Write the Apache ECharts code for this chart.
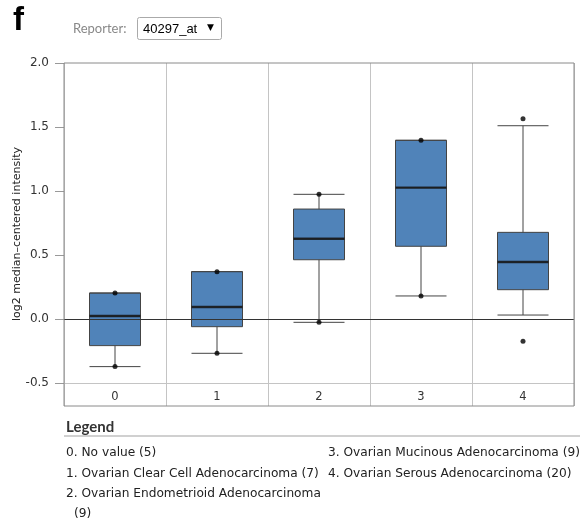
<!DOCTYPE html>
<html><head><meta charset="utf-8">
<script src="https://cdn.jsdelivr.net/npm/echarts@6/dist/echarts.min.js"></script>
<style>html,body{margin:0;padding:0;background:#fff}#c{width:580px;height:532px}</style>
</head><body><div id="c"></div>
<script>
// ---- data ----
const categories = ['0', '1', '2', '3', '4'];
// [lower whisker, Q1, median, Q3, upper whisker]
const lowerWhisker = [-0.372, -0.268, -0.026, 0.180, 0.031];
const q1 =           [-0.208, -0.060, 0.463, 0.568, 0.229];
const median =       [0.023, 0.094, 0.627, 1.026, 0.445];
const q3 =           [0.203, 0.370, 0.859, 1.396, 0.677];
const upperWhisker = [0.203, 0.370, 0.974, 1.396, 1.510];
// extreme / outlier points: [category index, value]
const pointCats = [0, 0, 1, 1, 2, 2, 3, 3, 4, 4];
const pointVals = [0.203, -0.372, 0.370, -0.268, 0.974, -0.026, 1.396, 0.180, 1.565, -0.174];
const yTicks = [-0.5, 0.0, 0.5, 1.0, 1.5, 2.0];
const legendItems = [
  '0. No value (5)',
  '1. Ovarian Clear Cell Adenocarcinoma (7)',
  '2. Ovarian Endometrioid Adenocarcinoma',
  '(9)',
  '3. Ovarian Mucinous Adenocarcinoma (9)',
  '4. Ovarian Serous Adenocarcinoma (20)'
];
const reporter = '40297_at';

const boxData = categories.map((c, i) => [lowerWhisker[i], q1[i], median[i], q3[i], upperWhisker[i]]);
const medData = categories.map((c, i) => [i, median[i]]);
const ptData = pointCats.map((c, i) => [c, pointVals[i]]);

const chart = echarts.init(document.getElementById('c'), null, {renderer: 'canvas'});
const F = 'DejaVu Sans';
const legendPos = [[66, 453], [66, 473.5], [66, 494], [74, 514], [328, 453], [328, 473.5]];
chart.setOption({
  animation: false,
  grid: {left: 64, right: 6, top: 63, bottom: 149, containLabel: false},
  xAxis: {
    type: 'category', data: categories, boundaryGap: true,
    axisLine: {show: true, onZero: false, lineStyle: {color: '#c4c4c4', width: 1}},
    axisTick: {show: true, length: 23, lineStyle: {color: '#c4c4c4'}},
    axisLabel: {fontFamily: F, fontSize: 11.5, color: '#333', margin: 8},
    splitLine: {show: true, lineStyle: {color: '#c4c4c4', width: 1}}
  },
  yAxis: {
    type: 'value', min: -0.5, max: 2.0, interval: 0.5,
    axisLine: {show: false},
    axisTick: {show: true, length: 9, lineStyle: {color: '#999'}},
    axisLabel: {fontFamily: F, fontSize: 12, color: '#333', margin: 15,
      formatter: v => v.toFixed(1)},
    splitLine: {show: false}
  },
  series: [
    {
      type: 'boxplot', data: boxData, boxWidth: [51, 51],
      itemStyle: {color: '#5083b9', borderColor: '#444', borderWidth: 1},
      z: 3,
      markLine: {silent: true, symbol: 'none', label: {show: false},
        lineStyle: {color: '#333', width: 1, type: 'solid'},
        data: [{yAxis: 0}]}
    },
    {
      type: 'scatter', data: medData, symbol: 'rect', symbolSize: [51, 2.4],
      itemStyle: {color: '#111'}, z: 4, silent: true
    },
    {
      type: 'scatter', data: ptData, symbol: 'circle', symbolSize: 5,
      itemStyle: {color: '#000'}, z: 5, silent: true
    }
  ],
  graphic: [
    {type: 'rect', z: 10, shape: {x: 64, y: 63, width: 510, height: 343},
      style: {fill: 'none', stroke: '#8a8a8a', lineWidth: 1}},
    {type: 'text', x: 17, y: 234, rotation: Math.PI / 2,
      style: {text: 'log2 median\u2013centered intensity', font: '11px "DejaVu Sans"', fill: '#222',
        align: 'center', verticalAlign: 'middle'}},
    {type: 'text', x: 13, y: 21, style: {text: 'f', font: 'bold 33px "Liberation Sans"', fill: '#000', verticalAlign: 'middle'}},
    {type: 'text', x: 73, y: 29, style: {text: 'Reporter:', font: '13px Lato', fill: '#888', verticalAlign: 'middle'}},
    {type: 'rect', shape: {x: 137.5, y: 17.5, width: 84, height: 22, r: 2}, style: {fill: '#fff', stroke: '#aaa', lineWidth: 1}},
    {type: 'text', x: 143, y: 29, style: {text: reporter, font: '13px "Liberation Sans"', fill: '#000', verticalAlign: 'middle'}},
    {type: 'text', x: 207, y: 28, style: {text: '\u25BC', font: '9px "DejaVu Sans"', fill: '#000', verticalAlign: 'middle'}},
    {type: 'text', x: 66, y: 427, style: {text: 'Legend', font: 'bold 15px Lato', fill: '#333', verticalAlign: 'middle'}},
    {type: 'line', shape: {x1: 64, y1: 436, x2: 580, y2: 436}, style: {stroke: '#d0d0d0', lineWidth: 2}},
    ...legendItems.map((t, i) => ({type: 'text', x: legendPos[i][0], y: legendPos[i][1],
      style: {text: t, font: '12.2px "DejaVu Sans"', fill: '#222', verticalAlign: 'middle'}}))
  ]
});
</script></body></html>
